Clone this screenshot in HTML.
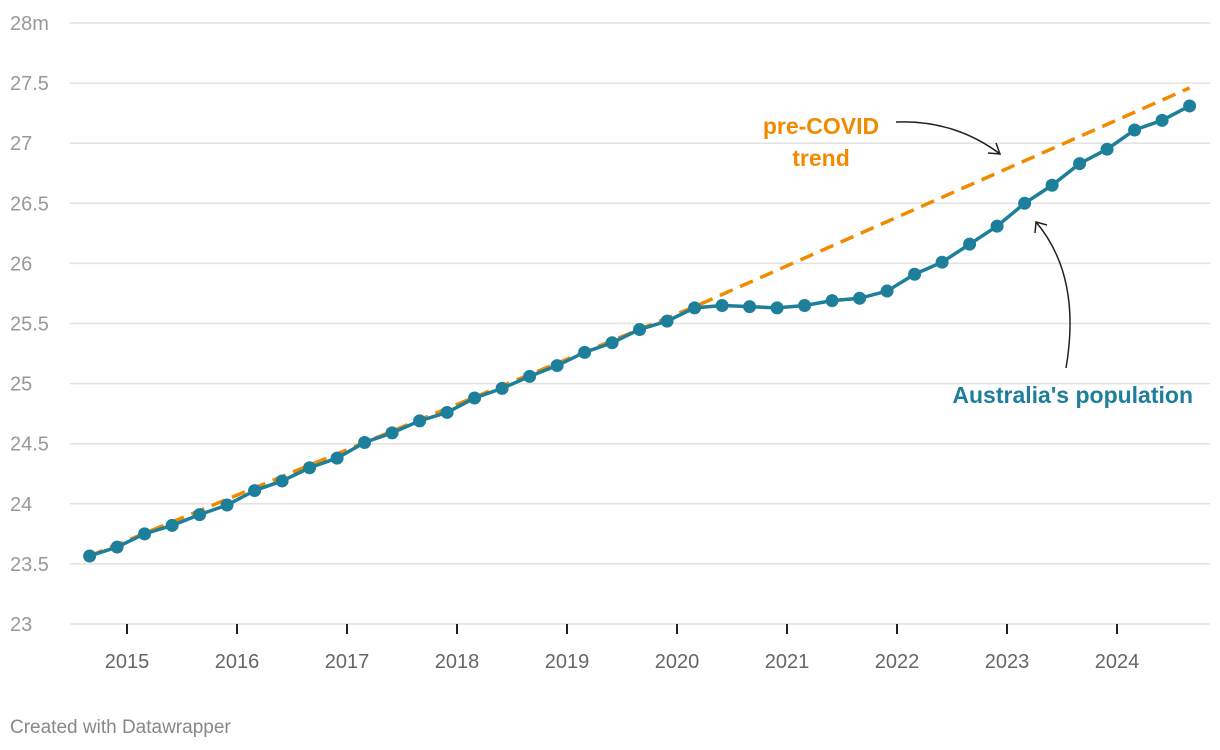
<!DOCTYPE html>
<html><head><meta charset="utf-8"><style>
body{margin:0;background:#fff;width:1220px;height:750px;overflow:hidden;font-family:"Liberation Sans",sans-serif}
svg{display:block}
</style></head><body>
<svg id="chart" width="1220" height="750" xmlns="http://www.w3.org/2000/svg">
<g id="grid"></g>
<g id="yaxis"></g>
<g id="xaxis"></g>
<g id="series"></g>
<text x="821" y="134" text-anchor="middle" font-size="23" font-weight="bold" fill="#f28a00">pre-COVID</text>
<text x="821" y="166" text-anchor="middle" font-size="23" font-weight="bold" fill="#f28a00">trend</text>
<path d="M896,122 C940,120 975,135 1000,154 M988,153 L1000,154 L996,143" fill="none" stroke="#222" stroke-width="1.5"/>
<text x="1193" y="403" text-anchor="end" font-size="23" font-weight="bold" fill="#1d7f9a">Australia's population</text>
<path d="M1066,368 C1076,310 1068,260 1036,222 M1035,233 L1036,222 L1047,225" fill="none" stroke="#222" stroke-width="1.5"/>
<text x="10" y="733" font-size="19" fill="#888">Created with Datawrapper</text>
</svg>
<script>
const yTicks=[23,23.5,24,24.5,25,25.5,26,26.5,27,27.5,28];
const yTickLabels=["23","23.5","24","24.5","25","25.5","26","26.5","27","27.5","28m"];
const xYears=[2015,2016,2017,2018,2019,2020,2021,2022,2023,2024];
const startTime=2014.66;
const population=[23.566,23.64,23.75,23.82,23.91,23.99,24.11,24.19,24.30,24.38,24.51,24.59,24.69,24.76,24.88,24.96,25.06,25.15,25.26,25.34,25.45,25.52,25.63,25.65,25.64,25.63,25.65,25.69,25.71,25.77,25.91,26.01,26.16,26.31,26.50,26.65,26.83,26.95,27.11,27.19,27.31];
const trendTimes=[2014.66,2017.16,2020.16,2024.66];
const trendValues=[23.566,24.51,25.64,27.46];

const NS="http://www.w3.org/2000/svg";
const x=t=>127+(t-2015)*110;
const y=v=>624-(v-23)*120.2;
function mk(tag,attrs,parent){const e=document.createElementNS(NS,tag);for(const k in attrs)e.setAttribute(k,attrs[k]);parent.appendChild(e);return e;}
const grid=document.getElementById('grid'),ya=document.getElementById('yaxis'),xa=document.getElementById('xaxis'),se=document.getElementById('series');
yTicks.forEach((v,i)=>{
  const l=mk('line',{x1:70,x2:1210,y1:y(v),y2:y(v),stroke:'#e2e2e2','stroke-width':1.5},grid);
  
  
  const t=mk('text',{x:10,y:y(v)+7,'font-size':20,fill:'#999'},ya);
  t.textContent=yTickLabels[i];
  
  
});
xYears.forEach(yr=>{
  const tk=mk('line',{x1:x(yr),x2:x(yr),y1:624,y2:634,stroke:'#222','stroke-width':2},xa);
  
  
  const t=mk('text',{x:x(yr),y:668,'text-anchor':'middle','font-size':20,fill:'#666'},xa);
  t.textContent=yr;
  
  
});
const tr=mk('polyline',{points:trendTimes.map((t,i)=>x(t)+','+y(trendValues[i])).join(' '),fill:'none',stroke:'#f28a00','stroke-width':3.5,'stroke-dasharray':'14 8'},se);


const pts=population.map((v,i)=>[x(startTime+i*0.25),y(v)]);
const pl=mk('polyline',{points:pts.map(p=>p.join(',')).join(' '),fill:'none',stroke:'#1d7f9a','stroke-width':3.5},se);


pts.forEach(p=>{
  const c=mk('circle',{cx:p[0],cy:p[1],r:6.5,fill:'#1d7f9a'},se);
  
  
});
</script>
</body></html>
